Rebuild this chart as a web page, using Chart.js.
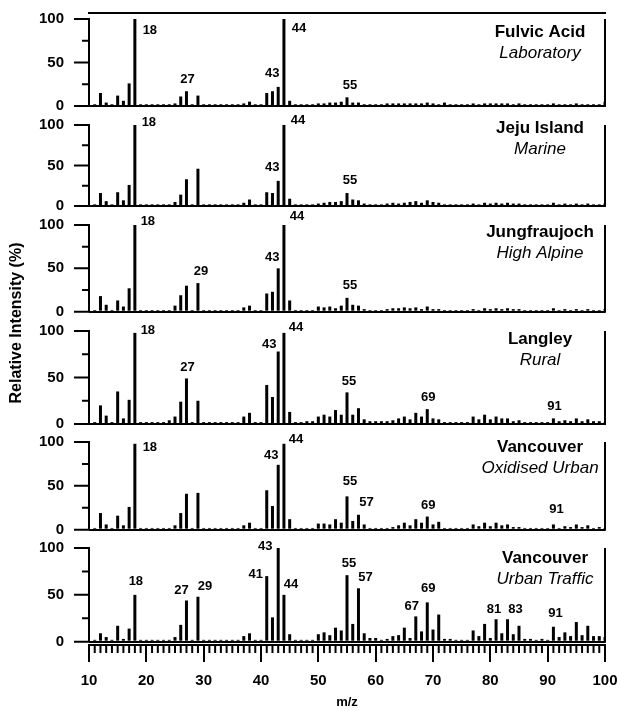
<!DOCTYPE html>
<html><head><meta charset="utf-8">
<script src="https://cdn.jsdelivr.net/npm/chart.js@4.4.1/dist/chart.umd.min.js"></script>
<style>html,body{margin:0;padding:0;background:#fff}canvas{display:block}</style>
</head><body>
<canvas id="c" width="619" height="711"></canvas>
<script>
// ---------------- DATA ----------------
const mzValues = [11,12,13,14,15,16,17,18,19,20,21,22,23,24,25,26,27,28,29,30,
  31,32,33,34,35,36,37,38,39,40,41,42,43,44,45,46,47,48,49,50,
  51,52,53,54,55,56,57,58,59,60,61,62,63,64,65,66,67,68,69,70,
  71,72,73,74,75,76,77,78,79,80,81,82,83,84,85,86,87,88,89,90,
  91,92,93,94,95,96,97,98,99,100];

const xTickValues = [10,20,30,40,50,60,70,80,90,100];
const yTickValues = [0,25,50,75,100];

const panelTitles = ['Fulvic Acid','Jeju Island','Jungfraujoch','Langley','Vancouver','Vancouver'];
const panelSubtitles = ['Laboratory','Marine','High Alpine','Rural','Oxidised Urban','Urban Traffic'];

const fulvic = [2,15,4,2,12,6,26,100,2,2, 2,2,2,2,3,11,17,2,12,2, 2,2,2,2,2,2,3,5,2,2,
  15,17,22,100,6,2,2,2,2,3, 3,4,4,5,10,4,4,2,2,2, 2,3,3,3,3,3,3,3,4,3,
  2,4,2,2,2,2,3,2,3,3, 3,3,3,2,3,2,2,2,2,2, 3,2,2,2,3,2,2,2,2,5];
const jeju = [2,16,6,2,17,7,26,100,2,2, 2,2,2,2,5,14,33,2,46,2, 2,2,2,2,2,2,4,8,2,2,
  17,16,31,100,9,2,2,2,2,3, 4,5,5,6,16,8,7,3,2,2, 2,3,4,3,4,5,6,4,7,5,
  4,2,2,2,2,2,3,2,4,3, 4,3,4,3,3,2,2,2,2,2, 4,2,3,2,3,2,3,2,2,3];
const jungfraujoch = [2,18,8,2,13,6,27,100,2,2, 2,2,2,2,7,19,30,2,33,2, 2,2,2,2,2,2,5,7,2,2,
  21,23,50,100,13,2,2,2,2,6, 5,6,4,7,16,8,7,3,2,2, 2,3,4,4,5,4,5,3,6,3,
  3,2,2,2,2,2,3,2,4,3, 4,3,4,3,3,2,2,2,2,2, 4,2,3,2,3,2,3,2,2,3];
const langley = [2,20,9,2,35,6,26,98,2,2, 2,2,2,4,8,24,49,2,25,2, 2,2,2,2,2,2,8,12,2,2,
  42,29,78,98,13,2,2,3,3,8, 10,8,15,10,34,10,17,5,3,3, 3,3,4,6,8,5,12,8,16,6,
  5,2,2,2,2,2,8,5,10,5, 8,6,6,3,4,2,2,2,2,2, 6,3,4,3,6,3,5,3,3,2];
const vancouverOxidised = [2,19,6,2,16,5,26,98,2,2, 2,2,2,2,5,19,41,2,42,2, 2,2,2,2,2,2,5,8,2,2,
  45,27,74,98,12,2,2,2,2,7, 7,6,12,8,38,10,17,6,2,2, 2,2,3,5,8,5,12,8,15,6,
  9,2,2,2,2,2,6,4,8,4, 8,5,6,3,3,2,2,2,2,2, 6,2,4,3,6,3,5,2,3,2];
const vancouverTraffic = [2,9,5,2,17,3,14,50,2,2, 2,2,2,2,5,18,44,2,48,2, 2,2,2,2,2,2,6,9,2,2,
  70,26,100,50,8,2,2,2,2,8, 10,7,15,12,71,19,57,9,4,4, 2,3,6,7,15,4,27,11,42,13,
  29,3,3,2,2,2,12,6,19,4, 24,9,24,8,17,3,3,2,3,2, 16,5,10,6,21,7,17,6,6,5];

const peakLabels = [
  [18,27,43,44,55],
  [18,43,44,55],
  [18,29,43,44,55],
  [18,27,43,44,55,69,91],
  [18,43,44,55,57,69,91],
  [18,27,29,41,43,44,55,57,67,69,81,83,91]
];

// ---------------- STYLE / LAYOUT ----------------
const series = [fulvic, jeju, jungfraujoch, langley, vancouverOxidised, vancouverTraffic];
const panelIds = ['p1','p2','p3','p4','p5','p6'];
const panelRange = [[-10.3,106.9],[-11.1,112.3],[-10.7,111.5],[-9.7,110.8],[-10.6,110.3],[-3.5,109.6]];
const panelWeight = [102,100,106,112,106,106];
const titleDy = [13,3,7,8,5,10];      // px below the 100 line
const titleDx = [65,65,65,65,65,60];  // px left of right axis (centre)
// label nudges [dx, dy] (px) relative to bar top, per panel, same order as peakLabels
const labelNudge = [
  [[15,11],[1,-12],[-6,-13],[15,9],[3,-12]],
  [[14,-3],[-6,-13],[14,-5],[3,-13]],
  [[13,-4],[3,-12],[-6,-11],[13,-9],[3,-12]],
  [[13,-2],[1,-11],[-9,-7],[12,-5],[2,-11],[1,-12],[1,-12]],
  [[15,4],[-7,-9],[12,-4],[3,-15],[8,-12],[1,-11],[3,-15]],
  [[1,-13],[-5,-10],[7,-10],[-11,-2],[-13,-2],[7,-10],[2,-12],[7,-11],[-4,-10],[1,-14],[-2,-10],[8,-10],[2,-13]]
];
const FONT = '"Liberation Sans", Arial, Helvetica, sans-serif';

const scales = {
  x: {
    type: 'linear', position: 'bottom', min: 10, max: 100, offset: false,
    afterBuildTicks: ax => { ax.ticks = xTickValues.map(v => ({value: v})); },
    afterFit: ax => { ax.height = 66; ax.paddingTop = 0; ax.paddingBottom = 0; ax.paddingLeft = 0; ax.paddingRight = 0; },
    ticks: { autoSkip: false, maxRotation: 0, color: '#000', padding: 10,
             font: { family: FONT, size: 15, weight: 'bold' } },
    grid: { drawOnChartArea: false, offset: false, tickLength: 17, color: '#000', lineWidth: 2 },
    border: { display: true, color: '#000', width: 2 },
    title: { display: true, text: 'm/z', color: '#000', padding: { top: 0, bottom: 1 },
             font: { family: FONT, size: 13, weight: 'bold' } }
  }
};
panelIds.forEach((id, i) => {
  scales[id] = {
    type: 'linear', position: 'left', stack: 'panels', stackWeight: panelWeight[i], weight: 6 - i,
    min: panelRange[i][0], max: panelRange[i][1],
    afterBuildTicks: ax => { ax.ticks = yTickValues.map(v => ({value: v})); },
    afterFit: ax => { ax.width = 89; ax.paddingTop = 0; ax.paddingBottom = 0; ax.paddingLeft = 0; ax.paddingRight = 0; },
    ticks: { callback: v => (v % 50 === 0 ? String(v) : ''), color: '#000', padding: 10,
             font: { family: FONT, size: 15, weight: 'bold' } },
    grid: {
      drawOnChartArea: true, drawTicks: true, tickLength: 15, lineWidth: 2, tickWidth: 2,
      color: c => (c.tick && c.tick.value === 0) ? '#000' : 'rgba(0,0,0,0)',
      tickColor: 'rgba(0,0,0,0)'
    },
    border: { display: false }
  };
});

const decor = {
  id: 'decor',
  afterDraw(chart) {
    const ctx = chart.ctx, xs = chart.scales.x, area = chart.chartArea;
    ctx.save();
    ctx.strokeStyle = '#000'; ctx.fillStyle = '#000'; ctx.lineWidth = 2;
    // x minor ticks
    ctx.beginPath();
    mzValues.forEach(m => {
      if (m % 10 === 0) return;
      const px = xs.getPixelForValue(m);
      ctx.moveTo(px, xs.top); ctx.lineTo(px, xs.top + 8);
    });
    ctx.stroke();
    // top frame line
    ctx.beginPath(); ctx.moveTo(area.left - 1, area.top); ctx.lineTo(area.right + 1, area.top); ctx.stroke();

    panelIds.forEach((id, i) => {
      const ys = chart.scales[id];
      const y0 = ys.getPixelForValue(0), y100 = ys.getPixelForValue(100);
      ctx.beginPath();
      ctx.moveTo(area.left, y0 + 1); ctx.lineTo(area.left, y100 - 1);
      ctx.moveTo(area.right, y0 + 1); ctx.lineTo(area.right, y100);
      yTickValues.forEach(v => {
        const py = ys.getPixelForValue(v);
        const len = (v % 50 === 0) ? 15 : 7;
        ctx.moveTo(area.left - len, py); ctx.lineTo(area.left, py);
      });
      ctx.stroke();
      // peak labels
      ctx.font = 'bold 13px ' + FONT; ctx.textAlign = 'center'; ctx.textBaseline = 'middle';
      peakLabels[i].forEach((m, k) => {
        const v = series[i][mzValues.indexOf(m)];
        const n = labelNudge[i][k];
        ctx.fillText(String(m), xs.getPixelForValue(m) + n[0], ys.getPixelForValue(v) + n[1]);
      });
      // panel titles
      const tx = area.right - titleDx[i];
      const ty = y100 + titleDy[i];
      ctx.font = 'bold 17px ' + FONT;
      ctx.fillText(panelTitles[i], tx, ty);
      ctx.font = 'italic 17px ' + FONT;
      ctx.fillText(panelSubtitles[i], tx, ty + 21);
    });
    // y axis title
    ctx.translate(17, 323); ctx.rotate(-Math.PI / 2);
    ctx.font = 'bold 16px ' + FONT; ctx.textAlign = 'center'; ctx.textBaseline = 'middle';
    ctx.fillText('Relative Intensity (%)', 0, 0);
    ctx.restore();
  }
};

new Chart(document.getElementById('c'), {
  type: 'bar',
  data: {
    datasets: series.map((vals, i) => ({
      label: panelTitles[i] + ' ' + panelSubtitles[i],
      data: mzValues.map((m, j) => ({ x: m, y: vals[j] })),
      xAxisID: 'x', yAxisID: panelIds[i],
      backgroundColor: '#000', borderWidth: 0, grouped: false, maxBarThickness: 3
    }))
  },
  options: {
    responsive: false, animation: false, devicePixelRatio: 1,
    layout: { padding: { top: 13, right: 14, bottom: 0, left: 0 } },
    plugins: { legend: { display: false }, tooltip: { enabled: false } },
    scales
  },
  plugins: [decor]
});
</script>
</body></html>
